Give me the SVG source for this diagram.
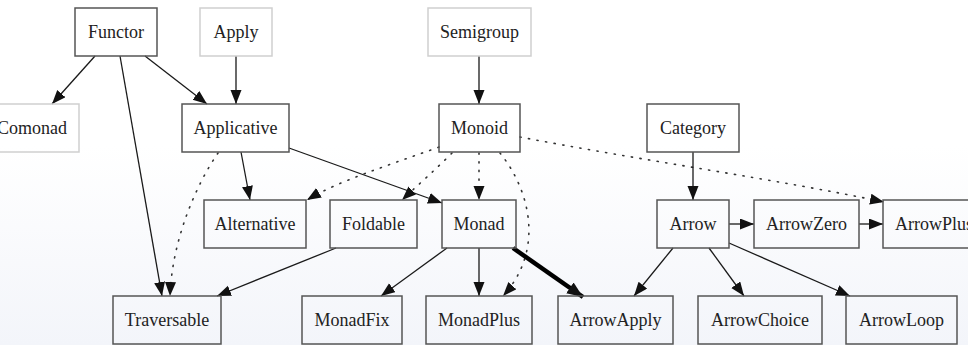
<svg xmlns="http://www.w3.org/2000/svg" width="968" height="345" viewBox="0 0 968 345">
<defs>
<linearGradient id="bg" x1="0" y1="0" x2="0" y2="1">
<stop offset="0" stop-color="#ffffff"/>
<stop offset="0.42" stop-color="#ffffff"/>
<stop offset="1" stop-color="#f3f5fa"/>
</linearGradient>
<marker id="ah" markerUnits="userSpaceOnUse" markerWidth="15" markerHeight="12" refX="14" refY="5.5" orient="auto">
<path d="M0,0 L14,5.5 L0,11 z" fill="#111"/>
</marker>
<marker id="ahb" markerUnits="userSpaceOnUse" markerWidth="17" markerHeight="14" refX="16" refY="6.5" orient="auto">
<path d="M0,0 L16,6.5 L0,13 z" fill="#111"/>
</marker>
</defs>
<style>
.n rect{fill:none;stroke:#555;stroke-width:1.5}
.g rect{fill:none;stroke:#cfcfcf;stroke-width:1.5}
.lbl{font-family:'Liberation Serif','Times New Roman',serif;font-size:18px;fill:#222;text-anchor:middle}
#edges path{fill:none;stroke:#1a1a1a;stroke-width:1.3;marker-end:url(#ah)}
#edges path.d{stroke:#333;stroke-width:1.6;stroke-dasharray:1.2 7.5;stroke-linecap:round}
#edges path.t{stroke:#000;stroke-width:4.5;marker-end:url(#ahb)}
</style>
<rect x="0" y="0" width="968" height="345" fill="url(#bg)"/>
<g id="edges">
<path d="M95,56 L52,104"/>
<path d="M145,56 L207,104"/>
<path d="M120,56 L162,296"/>
<path d="M236,56 L236,104"/>
<path d="M241,152 L250,200"/>
<path d="M289,148 L442,203"/>
<path class="d" d="M218,153 C196,185 172,240 170,296"/>
<path d="M479,56 L479,104"/>
<path class="d" d="M439,147 C390,165 340,180 307,200"/>
<path class="d" d="M452,153 C435,170 418,185 402,200"/>
<path class="d" d="M479,153 L479,200"/>
<path class="d" d="M500,153 C530,190 545,250 503,296"/>
<path class="d" d="M520,137 C640,160 780,180 884,202"/>
<path d="M693,152 L693,200"/>
<path d="M729,224 L754,224"/>
<path d="M859,224 L883,224"/>
<path d="M673,248 L634,296"/>
<path d="M709,248 L744,296"/>
<path d="M729,243 L850,296"/>
<path d="M447,248 L381,296"/>
<path d="M479,248 L479,296"/>
<path class="t" d="M513,248 L583,297"/>
<path d="M336,248 L217,296"/>
</g>
<g id="Functor" class="n"><rect x="75" y="8" width="82" height="48"/><text class="lbl" x="116" y="38">Functor</text></g>
<g id="Apply" class="g"><rect x="200" y="8" width="72" height="48"/><text class="lbl" x="236" y="38">Apply</text></g>
<g id="Semigroup" class="g"><rect x="428" y="8" width="103" height="48"/><text class="lbl" x="479.5" y="38">Semigroup</text></g>
<g id="Comonad" class="g"><rect x="-15" y="104" width="94" height="48"/><text class="lbl" x="32" y="134">Comonad</text></g>
<g id="Applicative" class="n"><rect x="182" y="104" width="107" height="48"/><text class="lbl" x="235.5" y="134">Applicative</text></g>
<g id="Monoid" class="n"><rect x="439" y="104" width="81" height="48"/><text class="lbl" x="479.5" y="134">Monoid</text></g>
<g id="Category" class="n"><rect x="647" y="104" width="92" height="48"/><text class="lbl" x="693" y="134">Category</text></g>
<g id="Alternative" class="n"><rect x="204" y="200" width="102" height="48"/><text class="lbl" x="255" y="230">Alternative</text></g>
<g id="Foldable" class="n"><rect x="330" y="200" width="87" height="48"/><text class="lbl" x="373.5" y="230">Foldable</text></g>
<g id="Monad" class="n"><rect x="442" y="200" width="74" height="48"/><text class="lbl" x="479" y="230">Monad</text></g>
<g id="Arrow" class="n"><rect x="657" y="200" width="72" height="48"/><text class="lbl" x="693" y="230">Arrow</text></g>
<g id="ArrowZero" class="n"><rect x="754" y="200" width="105" height="48"/><text class="lbl" x="806.5" y="230">ArrowZero</text></g>
<g id="ArrowPlus" class="n"><rect x="883" y="200" width="102" height="48"/><text class="lbl" x="934" y="230">ArrowPlus</text></g>
<g id="Traversable" class="n"><rect x="113" y="296" width="108" height="48"/><text class="lbl" x="167" y="326">Traversable</text></g>
<g id="MonadFix" class="n"><rect x="302" y="296" width="100" height="48"/><text class="lbl" x="352" y="326">MonadFix</text></g>
<g id="MonadPlus" class="n"><rect x="426" y="296" width="106" height="48"/><text class="lbl" x="479" y="326">MonadPlus</text></g>
<g id="ArrowApply" class="n"><rect x="558" y="296" width="115" height="48"/><text class="lbl" x="615.5" y="326">ArrowApply</text></g>
<g id="ArrowChoice" class="n"><rect x="698" y="296" width="124" height="48"/><text class="lbl" x="760" y="326">ArrowChoice</text></g>
<g id="ArrowLoop" class="n"><rect x="846" y="296" width="111" height="48"/><text class="lbl" x="901.5" y="326">ArrowLoop</text></g>
</svg>
